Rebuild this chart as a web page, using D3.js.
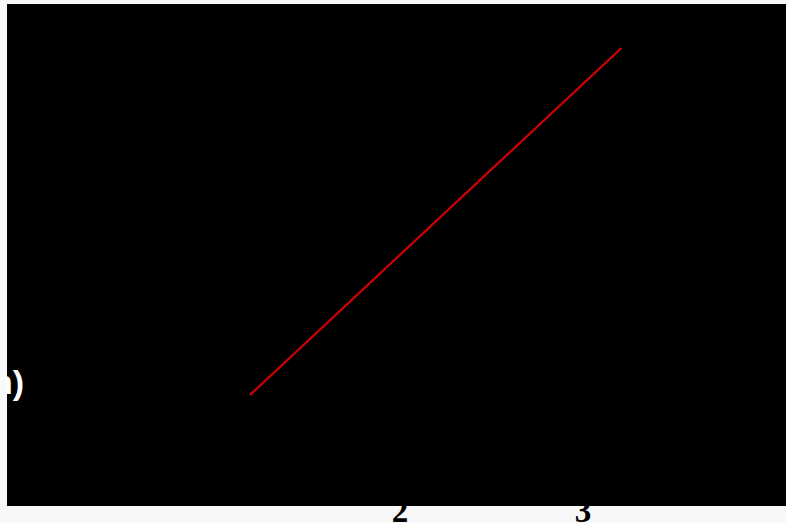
<!DOCTYPE html>
<html><head><meta charset="utf-8">
<script src="https://cdn.jsdelivr.net/npm/d3@7"></script>
<style>html,body{margin:0;padding:0;background:#f7f7f7;overflow:hidden}
.tick{font-family:"Liberation Serif","Times New Roman",serif;font-weight:bold;font-size:33px}
.ylab{font-family:"Liberation Sans",Arial,sans-serif;font-weight:bold;font-size:34px}</style>
</head><body>
<script>
// Data
const xTicks = [2, 3];
const xValues = [1.18, 3.21];
const yValues = [1.0, 2.9];
const yLabel = "(km)";

const W = 786, H = 523;
const svg = d3.select("body").append("svg").attr("width", W).attr("height", H);

svg.append("rect").attr("width", W).attr("height", H).attr("fill", "#f8f8f8");

const x = d3.scaleLinear().domain([2, 3]).range([400, 583]);
const y = d3.scaleLinear().domain([1.0, 2.9]).range([395, 48]);

// tick labels (drawn beneath the plot panel)
svg.append("g").selectAll("text").data(xTicks).join("text")
  .attr("class", "tick")
  .attr("x", d => x(d)).attr("y", 522)
  .attr("text-anchor", "middle")
  .attr("fill", "#000").text(d => d);

// plot panel
svg.append("rect").attr("x", 7).attr("y", 4).attr("width", W - 7).attr("height", 502).attr("fill", "#000");

// y-axis label (clipped at left)
svg.append("text").attr("class", "ylab").attr("x", 24).attr("y", 394)
  .attr("text-anchor", "end")
  .attr("fill", "#fff").text(yLabel);

// line
const pts = xValues.map((v, i) => [v, yValues[i]]);
svg.append("path").datum(pts)
  .attr("d", d3.line().x(d => x(d[0])).y(d => y(d[1])))
  .attr("fill", "none").attr("stroke", "#d00000").attr("stroke-width", 2.2);
</script>
</body></html>
